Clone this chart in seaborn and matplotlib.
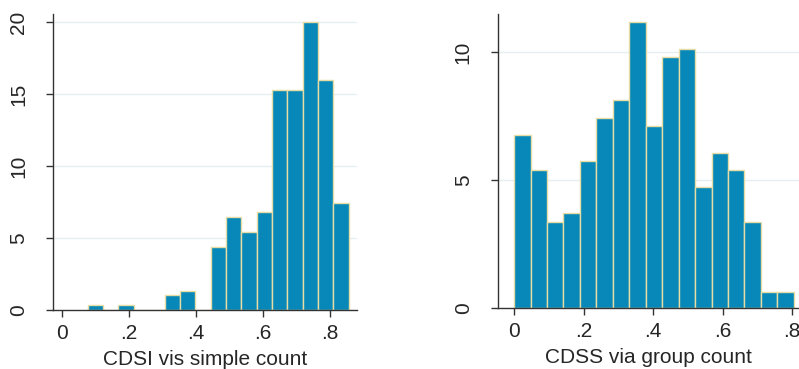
import numpy as np
import pandas as pd
import matplotlib
matplotlib.use("Agg")
import matplotlib.pyplot as plt
import seaborn as sns

# ---- Data (density histograms) ----
left_min, left_max, left_nbins = 0.078, 0.857, 17
left_heights = [0.33, 0, 0.33, 0, 0, 1.04, 1.32, 0, 4.38, 6.44, 5.42, 6.78,
                15.25, 15.25, 20.0, 16.0, 7.45]
left_xlabel = "CDSI vis simple count"
left_yticks = [0, 5, 10, 15, 20]

right_min, right_max, right_nbins = 0.0, 0.805, 17
right_heights = [6.77, 5.42, 3.37, 3.71, 5.77, 7.45, 8.14, 11.18, 7.11, 9.82,
                 10.14, 4.74, 6.08, 5.42, 3.37, 0.64, 0.64]
right_xlabel = "CDSS via group count"
right_yticks = [0, 5, 10]

xtick_vals = [0, 0.2, 0.4, 0.6, 0.8]
xtick_labels = ["0", ".2", ".4", ".6", ".8"]

sns.set_style("white")
plt.rcParams['font.family'] = ['Liberation Sans', 'DejaVu Sans']

FILL = "#0788b8"
EDGE = "#e6dca6"
GRID = "#e6eff0"
FS = 15

fig = plt.figure(figsize=(7.99, 3.69), dpi=100)
ax1 = fig.add_axes([0.0663, 0.160, 0.381, 0.802])
ax2 = fig.add_axes([0.623, 0.1645, 0.377, 0.7975])


def draw(ax, vmin, vmax, nb, heights, xlabel, yticks, xlim, ylim):
    edges = np.linspace(vmin, vmax, nb + 1)
    centers = (edges[:-1] + edges[1:]) / 2
    df = pd.DataFrame({"x": centers, "w": heights})
    for y in yticks[1:]:
        ax.axhline(y, color=GRID, lw=1, zorder=0)
    sns.histplot(data=df, x="x", weights="w", bins=nb, binrange=(vmin, vmax),
                 ax=ax, color=FILL, edgecolor=EDGE, linewidth=1.0, alpha=1,
                 zorder=2)
    ax.set_xlim(*xlim)
    ax.set_ylim(*ylim)
    ax.set_xticks(xtick_vals)
    ax.set_xticklabels(xtick_labels)
    ax.set_yticks(yticks)
    ax.set_yticklabels([str(v) for v in yticks])
    ax.set_xlabel(xlabel, fontsize=FS, labelpad=5)
    ax.set_ylabel("")
    for s in ["top", "right"]:
        ax.spines[s].set_visible(False)
    for s in ["left", "bottom"]:
        ax.spines[s].set_color("#333333")
        ax.spines[s].set_linewidth(1.0)
    ax.tick_params(axis="both", which="both", direction="out", length=5,
                   width=1, color="#333333", labelsize=FS, pad=5,
                   bottom=True, left=True)
    ax.tick_params(axis="y", labelrotation=90, pad=13)
    for lab in ax.get_yticklabels():
        lab.set_va("center")
    ax.grid(False)


draw(ax1, left_min, left_max, left_nbins, left_heights, left_xlabel,
     left_yticks, (-0.026, 0.883), (0, 20.55))
draw(ax2, right_min, right_max, right_nbins, right_heights, right_xlabel,
     right_yticks, (-0.047, 0.82), (0, 11.5))

fig.savefig("out.png", dpi=100, facecolor="white")
